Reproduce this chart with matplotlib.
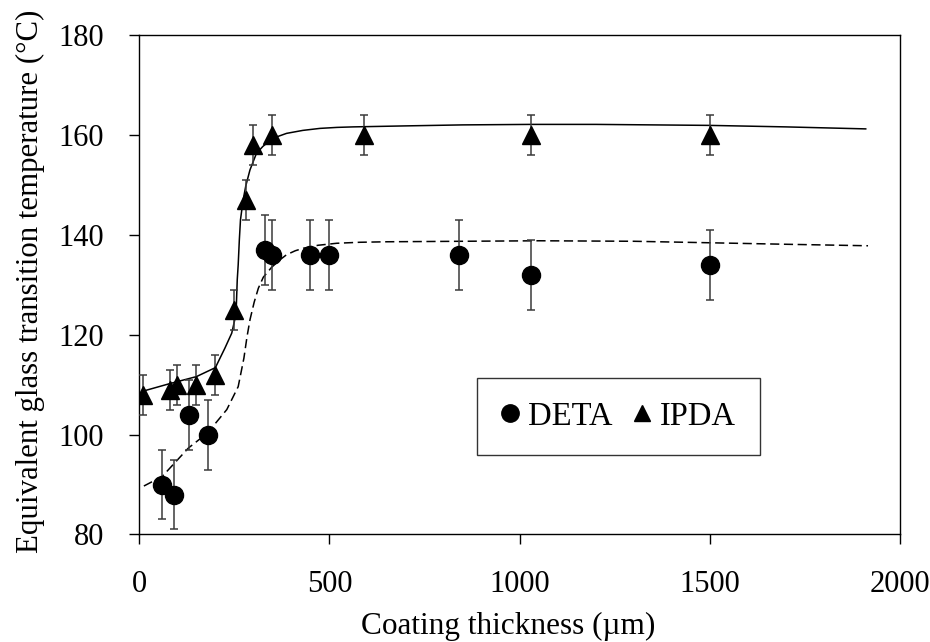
#!/usr/bin/env python3
import matplotlib

matplotlib.use("Agg")
import matplotlib.pyplot as plt
from matplotlib.lines import Line2D

# measured points
deta_x = [60, 90, 130, 180, 330, 350, 450, 500, 840, 1030, 1500]
deta_y = [90, 88, 104, 100, 137, 136, 136, 136, 136, 132, 134]
deta_err = [7, 7, 7, 7, 7, 7, 7, 7, 7, 7, 7]

ipda_x = [10, 80, 100, 150, 200, 250, 280, 300, 350, 590, 1030, 1500]
ipda_y = [108, 109, 110, 110, 112, 125, 147, 158, 160, 160, 160, 160]
ipda_err = [4, 4, 4, 4, 4, 4, 4, 4, 4, 4, 4, 4]

# fitted curves
ipda_fit_x = [10, 80, 150, 200, 225, 243, 251, 255, 257.5, 260, 263, 266, 273, 280,
              291, 308, 325, 343, 365, 387, 430, 475, 520, 562, 700, 850, 1030, 1200,
              1500, 1700, 1910]
ipda_fit_y = [108.7, 110.2, 111.6, 113.4, 117.3, 120.3, 123.0, 125.5, 131.0, 134.0, 139.0,
              143.0, 147.0, 149.8, 153.0, 156.3, 157.7, 158.8, 159.7, 160.3, 160.9, 161.3,
              161.5, 161.6, 161.8, 162.0, 162.1, 162.1, 161.9, 161.6, 161.2]

deta_fit_x = [12, 60, 129, 179, 230, 260, 275, 283, 291, 302, 313, 326, 348, 370, 387,
              410, 431, 470, 519, 580, 650, 850, 1053, 1300, 1500, 1700, 1916]
deta_fit_y = [89.7, 91.6, 97.3, 100.3, 105.0, 109.6, 115.3, 119.5, 123.0, 126.5, 129.3,
              131.5, 133.5, 135.0, 136.0, 136.8, 137.3, 137.9, 138.3, 138.5, 138.6, 138.7,
              138.8, 138.7, 138.4, 138.1, 137.8]

x_ticks = [0, 500, 1000, 1500, 2000]
y_ticks = [80, 100, 120, 140, 160, 180]

plt.rcParams.update({
    "font.family": ["Liberation Serif", "DejaVu Serif"],
    "font.size": 22,
})

fig = plt.figure(figsize=(9.3, 6.42), dpi=100)
ax = fig.add_axes([0.1498, 0.1675, 0.8179, 0.778])

ax.plot(ipda_fit_x, ipda_fit_y, color="black", lw=1.1, zorder=2)
ax.plot(deta_fit_x, deta_fit_y, color="black", lw=1.1, ls=(0, (6, 3)), zorder=2)

ax.errorbar(deta_x, deta_y, yerr=deta_err, fmt="none", ecolor="#3a3a3a",
            elinewidth=1.1, capsize=2.6, capthick=1.1, zorder=3)
ax.errorbar(ipda_x, ipda_y, yerr=ipda_err, fmt="none", ecolor="#3a3a3a",
            elinewidth=1.1, capsize=2.6, capthick=1.1, zorder=3)
ax.plot(deta_x, deta_y, "o", color="black", ms=13, zorder=4)
ax.plot(ipda_x, ipda_y, "^", color="black", ms=13, zorder=4)

ax.set_xlim(0, 2000)
ax.set_ylim(80, 180)
ax.set_xticks(x_ticks)
ax.set_yticks(y_ticks)
ax.tick_params(direction="out", length=7, width=1, pad=18.5, colors="black",
               labelsize=22)
for s in ax.spines.values():
    s.set_linewidth(1)
    s.set_color("black")

ax.set_xlabel("Coating thickness (\u00b5m)", fontsize=22.5)
ax.set_ylabel("Equivalent glass transition temperature (\u00b0C)", fontsize=22.2)
ax.xaxis.set_label_coords(0.485, -0.155)
ax.yaxis.set_label_coords(-0.124, 0.506)

handles = [
    Line2D([], [], ls="none", marker="o", color="black", ms=12.5),
    Line2D([], [], ls="none", marker="^", color="black", ms=12),
]
leg = ax.legend(handles, ["DETA", "IPDA"], ncol=2, loc="center",
                bbox_to_anchor=(0.630, 0.236), frameon=True, fancybox=False,
                edgecolor="black", borderpad=0.72, handlelength=0.55,
                handletextpad=0.3, columnspacing=0.6, fontsize=23.5,
                borderaxespad=0)
leg.get_frame().set_linewidth(1)

fig.savefig("out.png", dpi=100)
